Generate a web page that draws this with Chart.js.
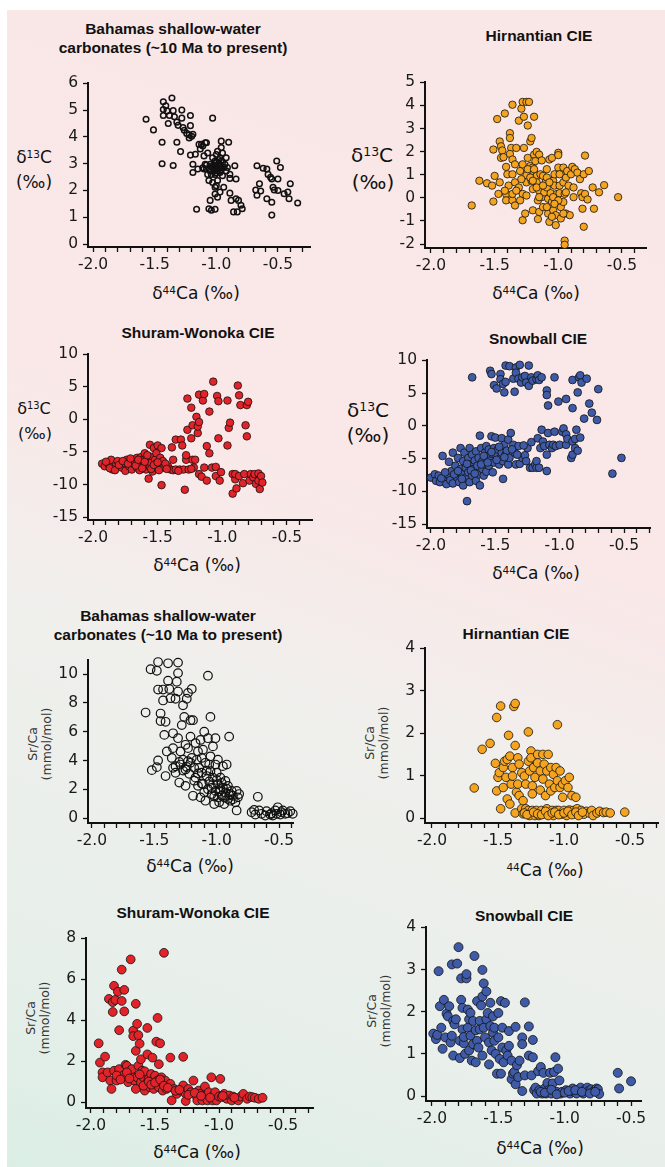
<!DOCTYPE html>
<html>
<head>
<meta charset="utf-8">
<script src="https://cdn.jsdelivr.net/npm/chart.js@4.4.1/dist/chart.umd.min.js"></script>
<style>
  body { margin: 0; width: 665px; height: 1167px; background: #fff; position: relative; overflow: hidden; }
  #bg { position: absolute; left: 7px; top: 10px; width: 658px; height: 1157px;
        background: linear-gradient(20deg, #dbeee5 0%, #e8efeb 17%, #f0efec 41%, #fae8e8 58%, #f9e6e6 100%); }
  canvas { position: absolute; }
  .t { position: absolute; transform: translate(-50%, -50%); white-space: nowrap; color: #111;
       font-family: "DejaVu Sans", sans-serif; text-align: center; }
  .title { font-family: "Liberation Sans", Arial, sans-serif; font-weight: bold; font-size: 15.5px; line-height: 19px; }
  .xl { font-size: 17px; }
  .sup { font-size: 0.62em; position: relative; top: -0.5em; }
  .rot { font-size: 12.5px; line-height: 14px; color: #333; transform: translate(-50%, -50%) rotate(-90deg); }
</style>
</head>
<body>
<div id="bg"></div>

<div class="t title" style="left:173px;top:38px">Bahamas shallow-water<br>carbonates (~10 Ma to present)</div>
<div class="t" style="left:34px;top:157px;font-size:17px">&delta;<span class="sup">13</span>C</div>
<div class="t" style="left:34px;top:182px;font-size:17px">(&permil;)</div>
<div class="t xl" style="left:196px;top:293px">&delta;<span class="sup">44</span>Ca (&permil;)</div>

<div class="t title" style="left:539px;top:35px">Hirnantian CIE</div>
<div class="t" style="left:372px;top:155px;font-size:20px">&delta;<span class="sup">13</span>C</div>
<div class="t" style="left:373px;top:182px;font-size:20px">(&permil;)</div>
<div class="t xl" style="left:536px;top:293px">&delta;<span class="sup">44</span>Ca (&permil;)</div>

<div class="t title" style="left:198px;top:332px">Shuram-Wonoka CIE</div>
<div class="t" style="left:34px;top:408px;font-size:16px">&delta;<span class="sup">13</span>C</div>
<div class="t" style="left:35px;top:433px;font-size:16px">(&permil;)</div>
<div class="t xl" style="left:197px;top:565px">&delta;<span class="sup">44</span>Ca (&permil;)</div>

<div class="t title" style="left:538px;top:338px">Snowball CIE</div>
<div class="t" style="left:368px;top:410px;font-size:20px">&delta;<span class="sup">13</span>C</div>
<div class="t" style="left:368px;top:435px;font-size:20px">(&permil;)</div>
<div class="t xl" style="left:536px;top:573px">&delta;<span class="sup">44</span>Ca (&permil;)</div>

<div class="t title" style="left:168px;top:625px">Bahamas shallow-water<br>carbonates (~10 Ma to present)</div>
<div class="t rot" style="left:40px;top:744px">Sr/Ca<br>(mmol/mol)</div>
<div class="t xl" style="left:190px;top:866px">&delta;<span class="sup">44</span>Ca (&permil;)</div>

<div class="t title" style="left:516px;top:633px">Hirnantian CIE</div>
<div class="t rot" style="left:377px;top:743px">Sr/Ca<br>(mmol/mol)</div>
<div class="t xl" style="left:545px;top:870px"><span class="sup">44</span>Ca (&permil;)</div>

<div class="t title" style="left:193px;top:912px">Shuram-Wonoka CIE</div>
<div class="t rot" style="left:38px;top:1018px">Sr/Ca<br>(mmol/mol)</div>
<div class="t xl" style="left:197px;top:1152px">&delta;<span class="sup">44</span>Ca (&permil;)</div>

<div class="t title" style="left:524px;top:915px">Snowball CIE</div>
<div class="t rot" style="left:379px;top:1011px">Sr/Ca<br>(mmol/mol)</div>
<div class="t xl" style="left:540px;top:1148px">&delta;<span class="sup">44</span>Ca (&permil;)</div>

<script>
// [d44Ca, d13C] pairs
const bahamasCarbon = [[-1.57,4.66],[-1.51,4.26],[-1.43,4.80],[-1.43,5.02],[-1.43,5.31],[-1.41,5.16],[-1.44,3.80],[-1.44,3.00],[-1.40,4.97],[-1.39,4.50],[-1.38,4.80],[-1.36,5.45],[-1.35,4.98],[-1.34,4.75],[-1.35,2.93],[-1.32,4.55],[-1.32,3.80],[-1.31,4.43],[-1.28,5.00],[-1.29,3.45],[-1.28,4.70],[-1.27,4.35],[-1.26,4.25],[-1.24,4.13],[-1.21,4.80],[-1.21,4.42],[-1.22,4.08],[-1.20,4.02],[-1.22,3.96],[-1.19,4.10],[-1.21,3.32],[-1.19,2.98],[-1.19,2.67],[-1.17,3.35],[-1.15,2.80],[-1.16,1.30],[-1.14,3.72],[-1.11,3.66],[-1.10,3.29],[-1.09,3.78],[-1.08,3.78],[-1.11,2.85],[-1.09,2.98],[-1.08,2.80],[-1.03,4.70],[-1.07,3.40],[-1.05,2.98],[-1.05,2.73],[-1.05,1.63],[-1.06,1.32],[-1.04,1.26],[-1.03,2.30],[-1.01,3.10],[-1.00,3.34],[-1.01,2.60],[-1.01,1.87],[-1.01,1.30],[-0.99,1.75],[-1.00,2.18],[-0.97,2.92],[-0.97,3.22],[-0.96,3.60],[-0.96,3.84],[-0.95,2.55],[-0.96,3.10],[-0.97,2.85],[-0.93,2.98],[-0.92,2.73],[-0.94,2.12],[-0.92,3.22],[-0.90,3.80],[-0.89,2.60],[-0.89,2.45],[-0.89,1.90],[-0.88,1.63],[-0.86,1.20],[-0.85,2.92],[-0.84,2.43],[-0.84,1.69],[-0.83,1.20],[-0.82,1.63],[-0.80,1.45],[-0.79,1.32],[-1.03,2.86],[-1.01,2.80],[-1.00,3.04],[-0.99,2.73],[-0.97,2.67],[-1.04,2.60],[-1.07,2.60],[-0.94,2.86],[-0.91,2.86],[-1.03,3.22],[-1.06,2.37],[-0.99,2.37],[-1.01,2.12],[-0.97,1.94],[-1.02,2.95],[-0.98,3.00],[-1.04,2.90],[-0.96,2.78],[-1.00,2.65],[-0.98,3.15],[-1.08,2.95],[-0.95,3.05],[-1.02,2.72],[-1.10,2.80],[-1.12,3.72],[-1.13,3.55],[-0.95,3.40],[-0.99,3.46],[-0.67,2.92],[-0.62,2.83],[-0.59,2.80],[-0.58,2.60],[-0.56,2.49],[-0.55,2.43],[-0.51,3.10],[-0.48,2.86],[-0.50,2.43],[-0.68,2.02],[-0.65,2.25],[-0.64,1.98],[-0.67,1.82],[-0.59,1.69],[-0.55,1.56],[-0.54,2.12],[-0.53,2.02],[-0.50,2.00],[-0.55,1.08],[-0.45,1.88],[-0.42,1.94],[-0.40,2.25],[-0.41,1.69],[-0.34,1.53]];

const hirnantianCarbon = [[-1.68,-0.33],[-1.62,0.74],[-1.56,0.63],[-1.52,0.53],[-1.51,2.09],[-1.50,0.95],[-1.51,-0.16],[-1.48,3.41],[-1.47,0.17],[-1.46,0.67],[-1.46,2.44],[-1.45,2.23],[-1.45,1.73],[-1.44,2.05],[-1.43,1.76],[-1.42,3.65],[-1.41,1.34],[-1.41,0.17],[-1.41,-0.11],[-1.40,1.02],[-1.39,0.53],[-1.38,2.80],[-1.38,2.59],[-1.37,2.16],[-1.38,1.90],[-1.36,4.03],[-1.36,1.66],[-1.36,1.02],[-1.36,-0.11],[-1.36,0.17],[-1.34,0.67],[-1.34,1.45],[-1.33,2.16],[-1.31,3.34],[-1.31,0.45],[-1.30,1.16],[-1.29,3.86],[-1.28,0.17],[-1.28,-0.97],[-1.28,1.45],[-1.27,2.16],[-1.27,3.51],[-1.26,-0.68],[-1.28,4.15],[-1.25,4.15],[-1.23,4.15],[-1.25,0.98],[-1.25,0.67],[-1.25,0.10],[-1.24,3.13],[-1.24,1.73],[-1.22,1.38],[-1.22,2.44],[-1.21,2.59],[-1.21,0.74],[-1.20,0.38],[-1.20,-0.54],[-1.20,1.31],[-1.19,1.09],[-1.19,3.51],[-1.19,1.87],[-1.18,1.59],[-1.17,1.99],[-1.17,0.95],[-1.17,0.67],[-1.16,-0.11],[-1.16,-0.92],[-1.15,0.31],[-1.15,1.87],[-1.15,-0.61],[-1.14,1.02],[-1.13,1.62],[-1.13,0.03],[-1.12,0.95],[-1.12,-0.40],[-1.11,0.24],[-1.10,0.67],[-1.09,1.24],[-1.09,0.45],[-1.08,-0.68],[-1.08,-0.04],[-1.07,1.66],[-1.07,-1.04],[-1.06,0.20],[-1.05,-0.18],[-1.05,1.73],[-1.04,0.74],[-1.04,-0.54],[-1.03,0.53],[-1.03,1.02],[-1.02,-0.75],[-1.02,-1.18],[-1.01,0.17],[-1.00,1.31],[-1.00,1.95],[-1.00,1.85],[-0.99,0.53],[-0.99,0.20],[-0.98,-0.40],[-0.98,-0.89],[-0.97,1.02],[-0.96,1.31],[-0.96,0.67],[-0.96,-0.18],[-0.95,0.17],[-0.95,-1.85],[-0.95,-2.03],[-0.94,0.88],[-0.94,-0.68],[-0.93,1.16],[-0.92,0.53],[-0.91,-0.75],[-0.90,1.02],[-0.89,1.34],[-0.88,0.45],[-0.87,1.24],[-0.85,1.09],[-0.83,0.81],[-0.82,0.20],[-0.81,-0.47],[-0.81,0.03],[-0.80,1.02],[-0.79,0.17],[-0.79,1.83],[-0.80,-1.25],[-0.77,-0.07],[-0.76,1.16],[-0.73,0.45],[-0.72,-0.47],[-0.68,0.24],[-0.64,0.55],[-0.53,0.03],[-1.22,0.88],[-1.20,0.74],[-1.17,0.45],[-1.09,0.88],[-1.07,0.67],[-1.04,0.03],[-1.00,-0.11],[-0.96,-0.68],[-1.05,-0.82],[-1.03,-0.26],[-1.15,0.03],[-1.12,0.53],[-1.30,-0.11],[-1.24,1.24],[-1.19,1.24],[-1.33,0.31],[-1.29,0.81],[-1.34,-0.33],[-1.42,0.31],[-0.94,0.24],[-0.99,1.02],[-0.88,0.03],[-1.09,-0.40]];

const shuramCarbon = [[-1.93,-6.8],[-1.91,-7.2],[-1.88,-6.9],[-1.86,-6.2],[-1.85,-7.7],[-1.82,-6.9],[-1.81,-6.4],[-1.78,-7.4],[-1.76,-6.7],[-1.75,-7.9],[-1.74,-6.2],[-1.72,-7.2],[-1.70,-7.7],[-1.69,-6.3],[-1.68,-6.9],[-1.66,-5.9],[-1.66,-7.4],[-1.64,-6.7],[-1.64,-7.8],[-1.63,-5.8],[-1.62,-6.3],[-1.61,-7.2],[-1.60,-5.2],[-1.59,-6.8],[-1.59,-7.7],[-1.57,-5.9],[-1.57,-6.4],[-1.56,-5.7],[-1.56,-3.9],[-1.56,-7.3],[-1.57,-9.1],[-1.55,-6.7],[-1.54,-8.0],[-1.53,-4.4],[-1.52,-6.2],[-1.52,-6.9],[-1.51,-5.2],[-1.51,-7.4],[-1.50,-4.0],[-1.48,-5.9],[-1.48,-7.3],[-1.47,-4.4],[-1.47,-10.1],[-1.46,-6.4],[-1.45,-7.4],[-1.42,-7.2],[-1.40,-7.7],[-1.39,-4.3],[-1.38,-6.2],[-1.38,-7.8],[-1.36,-7.7],[-1.36,-3.1],[-1.33,-7.7],[-1.32,-3.1],[-1.31,-4.0],[-1.30,-7.7],[-1.29,-10.8],[-1.28,-6.2],[-1.28,-5.5],[-1.27,3.2],[-1.27,-1.6],[-1.26,-7.7],[-1.24,1.8],[-1.24,-2.9],[-1.23,-0.9],[-1.23,-6.2],[-1.22,-7.4],[-1.20,0.4],[-1.19,-2.1],[-1.19,-1.1],[-1.18,-8.4],[-1.18,3.8],[-1.18,-0.4],[-1.16,-8.8],[-1.15,2.9],[-1.14,3.9],[-1.14,-7.4],[-1.12,-9.4],[-1.12,-4.1],[-1.10,-5.2],[-1.10,1.2],[-1.08,-7.4],[-1.07,5.8],[-1.05,-8.7],[-1.05,-7.3],[-1.04,3.6],[-1.03,2.8],[-1.03,-2.9],[-1.02,-9.4],[-1.01,-8.1],[-0.96,2.9],[-0.96,-4.0],[-0.95,-1.3],[-0.94,-0.5],[-0.92,-8.4],[-0.92,-11.4],[-0.90,-9.2],[-0.90,-8.4],[-0.89,-10.6],[-0.88,5.2],[-0.87,3.7],[-0.87,-8.7],[-0.86,2.2],[-0.84,-9.8],[-0.83,-8.4],[-0.82,-0.9],[-0.81,-2.6],[-0.81,2.2],[-0.80,2.7],[-0.79,-9.4],[-0.78,-8.4],[-0.76,-8.9],[-0.75,-8.4],[-0.74,-9.9],[-0.72,-8.3],[-0.72,-9.4],[-0.71,-10.7],[-0.70,-8.7],[-0.69,-9.7],[-1.90,-6.5],[-1.87,-7.5],[-1.83,-7.8],[-1.80,-7.0],[-1.77,-6.4],[-1.73,-6.8],[-1.71,-6.0],[-1.67,-7.1],[-1.65,-6.2],[-1.62,-7.5],[-1.60,-6.5],[-1.58,-5.5],[-1.55,-7.6],[-1.53,-7.0],[-1.50,-6.6],[-1.49,-7.8],[-1.44,-6.8],[-1.43,-7.6],[-1.34,-7.9],[-1.24,-7.6],[-1.21,-6.2]];

const snowballCarbon = [[-1.68,7.4],[-1.54,8.4],[-1.53,7.9],[-1.51,6.2],[-1.49,5.7],[-1.46,7.9],[-1.46,7.1],[-1.44,6.4],[-1.43,5.1],[-1.42,9.2],[-1.42,6.7],[-1.39,9.1],[-1.36,7.2],[-1.35,5.2],[-1.34,8.9],[-1.34,8.1],[-1.32,7.2],[-1.31,9.3],[-1.30,6.6],[-1.29,7.4],[-1.27,7.6],[-1.26,6.6],[-1.24,6.1],[-1.24,9.2],[-1.22,7.4],[-1.21,6.9],[-1.18,7.1],[-1.17,7.7],[-1.16,7.0],[-1.14,7.4],[-1.10,5.4],[-1.10,4.7],[-1.09,3.1],[-1.04,7.4],[-1.01,3.7],[-0.95,4.1],[-0.90,7.0],[-0.90,2.7],[-0.86,5.1],[-0.85,7.4],[-0.84,7.7],[-0.83,6.6],[-0.81,1.1],[-0.79,7.2],[-0.77,3.4],[-0.75,2.0],[-0.71,0.9],[-0.70,5.6],
  [-2.00,-7.9],[-1.97,-7.4],[-1.96,-8.4],[-1.94,-7.6],[-1.93,-8.6],[-1.91,-4.6],[-1.90,-7.9],[-1.88,-8.9],[-1.87,-7.4],[-1.86,-5.5],[-1.85,-8.3],[-1.84,-6.9],[-1.83,-4.1],[-1.83,-8.8],[-1.81,-6.1],[-1.80,-7.8],[-1.79,-4.9],[-1.78,-8.6],[-1.77,-6.6],[-1.77,-3.4],[-1.76,-7.4],[-1.75,-5.4],[-1.75,-9.1],[-1.74,-4.1],[-1.73,-6.4],[-1.73,-7.9],[-1.72,-11.5],[-1.71,-4.9],[-1.71,-7.1],[-1.70,-8.6],[-1.70,-3.4],[-1.69,-5.9],[-1.68,-4.4],[-1.68,-7.6],[-1.67,-6.6],[-1.66,-5.3],[-1.65,-8.4],[-1.65,-3.9],[-1.64,-6.1],[-1.63,-7.4],[-1.63,-4.9],[-1.62,-9.1],[-1.62,-1.5],[-1.61,-3.4],[-1.60,-6.6],[-1.60,-5.4],[-1.59,-7.6],[-1.58,-4.1],[-1.58,-5.9],[-1.57,-3.1],[-1.57,-7.0],[-1.56,-4.8],[-1.55,-3.6],[-1.55,-6.1],[-1.54,-5.3],[-1.53,-1.6],[-1.52,-7.1],[-1.52,-4.3],[-1.51,-3.4],[-1.51,-5.6],[-1.50,-1.8],[-1.49,-4.6],[-1.48,-3.6],[-1.47,-5.9],[-1.46,-4.9],[-1.45,-4.1],[-1.45,-1.9],[-1.44,-8.1],[-1.44,-5.4],[-1.43,-2.9],[-1.42,-4.4],[-1.41,-3.8],[-1.40,-5.9],[-1.40,-2.1],[-1.39,-4.9],[-1.38,-1.1],[-1.36,-2.9],[-1.35,-4.1],[-1.34,-5.9],[-1.32,-3.1],[-1.31,-5.8],[-1.29,-4.9],[-1.27,-4.5],[-1.26,-5.4],[-1.25,-3.4],[-1.23,-6.4],[-1.22,-2.5],[-1.21,-6.4],[-1.19,-5.9],[-1.18,-6.4],[-1.18,-5.4],[-1.17,-1.9],[-1.16,-6.4],[-1.15,-3.4],[-1.14,-0.6],[-1.13,-2.4],[-1.12,-3.1],[-1.10,-4.4],[-1.10,-6.9],[-1.09,-1.1],[-1.08,-2.9],[-1.06,-3.4],[-1.05,-2.9],[-1.04,-0.9],[-1.03,-3.1],[-1.00,-2.9],[-0.98,-0.9],[-0.97,-0.4],[-0.95,-1.3],[-0.95,-2.9],[-0.94,-2.0],[-0.91,-4.9],[-0.90,-2.4],[-0.90,-4.4],[-0.88,-3.4],[-0.88,-2.0],[-0.87,-0.6],[-0.86,-3.8],[-0.84,-1.8],[-0.59,-7.3],[-0.52,-4.9],
  [-1.92,-8.0],[-1.89,-7.1],[-1.82,-7.4],[-1.79,-6.9],[-1.76,-8.1],[-1.72,-5.8],[-1.69,-6.8],[-1.66,-7.3],[-1.61,-5.9],[-1.59,-4.6],[-1.56,-5.6],[-1.53,-4.0],[-1.49,-5.2],[-1.47,-3.2],[-1.43,-4.8],[-1.37,-3.6],[-1.33,-4.4],[-1.28,-3.0]];

// [d44Ca, Sr/Ca] pairs
const bahamasSr = [[-1.57,7.33],[-1.52,3.33],[-1.53,10.34],[-1.48,10.23],[-1.47,10.84],[-1.47,8.93],[-1.48,3.54],[-1.47,4.00],[-1.45,7.26],[-1.45,6.74],[-1.43,8.93],[-1.43,8.17],[-1.41,6.69],[-1.42,5.78],[-1.40,4.63],[-1.41,2.92],[-1.39,10.75],[-1.39,9.54],[-1.38,8.97],[-1.37,8.33],[-1.36,4.18],[-1.35,5.89],[-1.35,4.86],[-1.35,3.49],[-1.33,8.29],[-1.33,3.15],[-1.32,9.47],[-1.31,10.80],[-1.31,10.07],[-1.31,8.79],[-1.31,5.55],[-1.30,2.47],[-1.29,4.63],[-1.29,3.72],[-1.28,6.46],[-1.27,7.83],[-1.27,4.06],[-1.26,7.03],[-1.25,5.09],[-1.25,3.38],[-1.25,2.24],[-1.24,8.29],[-1.23,8.70],[-1.23,3.95],[-1.23,4.86],[-1.22,3.08],[-1.21,6.80],[-1.21,5.66],[-1.20,8.97],[-1.20,4.18],[-1.19,1.55],[-1.19,6.80],[-1.18,3.49],[-1.17,5.21],[-1.17,2.81],[-1.16,4.06],[-1.15,4.63],[-1.15,2.24],[-1.14,3.49],[-1.13,5.43],[-1.13,1.44],[-1.12,4.18],[-1.12,3.15],[-1.11,4.75],[-1.11,2.35],[-1.10,6.00],[-1.09,3.84],[-1.09,1.21],[-1.08,2.92],[-1.07,5.55],[-1.07,9.89],[-1.07,2.01],[-1.06,3.72],[-1.05,7.03],[-1.05,3.26],[-1.05,4.29],[-1.04,1.67],[-1.03,2.81],[-1.03,4.98],[-1.03,2.35],[-1.02,0.98],[-1.01,3.72],[-1.01,5.55],[-1.01,1.89],[-1.00,3.15],[-0.99,1.44],[-0.99,2.35],[-0.99,4.06],[-0.98,1.10],[-0.97,2.81],[-0.97,2.01],[-0.96,1.55],[-0.95,3.61],[-0.95,2.12],[-0.94,0.98],[-0.93,2.58],[-0.93,1.78],[-0.92,3.72],[-0.91,1.32],[-0.91,2.24],[-0.90,5.66],[-0.89,1.67],[-0.89,1.21],[-0.88,1.89],[-0.87,1.55],[-0.85,1.10],[-0.84,1.89],[-0.83,1.44],[-0.82,1.67],[-0.84,0.53],
  [-1.33,3.60],[-1.30,3.90],[-1.27,3.30],[-1.24,3.55],[-1.21,3.85],[-1.18,2.60],[-1.15,3.10],[-1.12,2.40],[-1.10,1.80],[-1.08,3.30],[-1.06,2.55],[-1.04,2.10],[-1.02,1.50],[-1.00,2.65],[-0.98,1.85],[-0.96,2.45],[-0.94,1.45],[-0.92,2.05],[-0.90,1.60],[-0.87,1.30],
  [-0.72,0.41],[-0.70,0.57],[-0.69,0.25],[-0.67,1.48],[-0.66,0.53],[-0.64,0.30],[-0.61,0.18],[-0.60,0.48],[-0.57,0.25],[-0.56,0.34],[-0.55,0.18],[-0.53,0.53],[-0.52,0.30],[-0.51,0.75],[-0.49,0.25],[-0.48,0.41],[-0.47,0.53],[-0.45,0.30],[-0.43,0.34],[-0.41,0.48],[-0.39,0.30]];

const hirnantianSr = [[-1.68,0.71],[-1.62,1.62],[-1.56,1.76],[-1.52,1.29],[-1.51,0.64],[-1.51,2.37],[-1.50,0.96],[-1.49,1.07],[-1.48,2.64],[-1.48,0.22],[-1.46,0.72],[-1.46,1.19],[-1.45,1.34],[-1.44,0.96],[-1.43,0.45],[-1.43,1.38],[-1.42,1.95],[-1.41,0.33],[-1.41,1.46],[-1.40,0.80],[-1.39,1.19],[-1.39,0.99],[-1.38,2.63],[-1.37,2.70],[-1.37,0.12],[-1.37,1.71],[-1.36,0.61],[-1.35,1.42],[-1.35,0.80],[-1.34,0.53],[-1.34,1.27],[-1.32,1.07],[-1.32,0.22],[-1.31,0.41],[-1.31,0.10],[-1.30,0.99],[-1.29,0.80],[-1.29,0.22],[-1.27,2.03],[-1.27,0.18],[-1.27,1.34],[-1.26,1.11],[-1.26,0.06],[-1.25,1.58],[-1.25,1.42],[-1.24,0.76],[-1.24,0.18],[-1.24,0.57],[-1.23,1.19],[-1.22,0.06],[-1.22,0.96],[-1.21,0.18],[-1.20,1.50],[-1.20,1.30],[-1.19,0.06],[-1.18,1.11],[-1.18,0.66],[-1.17,0.18],[-1.16,0.92],[-1.16,1.50],[-1.15,1.27],[-1.15,0.10],[-1.14,0.53],[-1.13,0.22],[-1.13,1.11],[-1.12,1.50],[-1.11,0.80],[-1.11,0.10],[-1.10,1.19],[-1.10,0.64],[-1.09,0.18],[-1.08,1.03],[-1.08,0.06],[-1.07,0.72],[-1.06,0.18],[-1.06,1.19],[-1.05,0.88],[-1.05,2.20],[-1.04,0.18],[-1.03,1.11],[-1.03,0.72],[-1.02,0.09],[-1.01,0.80],[-1.01,0.49],[-1.00,0.18],[-0.99,0.88],[-0.98,0.06],[-0.97,0.72],[-0.96,0.19],[-0.96,0.96],[-0.95,0.12],[-0.94,0.53],[-0.93,0.18],[-0.92,0.10],[-0.91,0.49],[-0.90,0.22],[-0.88,0.12],[-0.87,0.18],[-0.85,0.09],[-0.83,0.16],[-0.81,0.12],[-0.79,0.18],[-0.78,0.06],[-0.75,0.12],[-0.73,0.16],[-0.70,0.13],[-0.68,0.14],[-0.65,0.12],[-0.54,0.14],
  [-1.30,0.12],[-1.28,0.08],[-1.23,0.14],[-1.20,0.10],[-1.17,0.08],[-1.14,0.16],[-1.12,0.06],[-1.09,0.12],[-1.07,0.14],[-1.04,0.08],[-1.00,0.12],[-0.97,0.16],[-0.94,0.08],[-0.91,0.14],[-0.89,0.06],[-0.86,0.14]];

const shuramSr = [[-1.94,2.87],[-1.93,1.93],[-1.91,1.45],[-1.91,1.21],[-1.89,2.22],[-1.87,1.45],[-1.86,5.04],[-1.85,1.05],[-1.84,0.64],[-1.83,4.88],[-1.83,4.40],[-1.82,1.53],[-1.82,5.68],[-1.81,4.99],[-1.80,1.05],[-1.79,5.39],[-1.78,3.51],[-1.78,1.61],[-1.76,6.47],[-1.76,4.94],[-1.75,1.29],[-1.74,5.48],[-1.74,4.43],[-1.73,1.82],[-1.72,1.77],[-1.71,0.97],[-1.69,1.37],[-1.69,6.97],[-1.68,1.61],[-1.67,3.49],[-1.67,3.22],[-1.66,1.05],[-1.65,0.64],[-1.65,4.80],[-1.65,2.50],[-1.64,1.21],[-1.64,3.82],[-1.63,3.27],[-1.63,1.77],[-1.62,2.85],[-1.61,0.97],[-1.61,2.09],[-1.60,1.53],[-1.59,1.21],[-1.58,1.50],[-1.58,0.56],[-1.57,0.89],[-1.56,2.33],[-1.56,3.62],[-1.55,1.13],[-1.54,0.72],[-1.53,1.37],[-1.52,2.17],[-1.52,1.05],[-1.51,0.64],[-1.50,1.29],[-1.49,2.95],[-1.48,1.05],[-1.48,4.11],[-1.47,0.72],[-1.47,1.85],[-1.46,2.87],[-1.45,1.21],[-1.45,0.97],[-1.44,0.56],[-1.42,1.05],[-1.43,7.29],[-1.41,0.64],[-1.38,0.89],[-1.38,2.17],[-1.37,0.08],[-1.35,0.64],[-1.33,0.40],[-1.30,0.56],[-1.28,2.21],[-1.28,0.81],[-1.26,0.40],[-1.26,0.05],[-1.24,0.64],[-1.22,0.48],[-1.20,1.05],[-1.18,0.32],[-1.17,0.08],[-1.16,0.56],[-1.15,0.40],[-1.13,0.08],[-1.11,0.76],[-1.11,0.32],[-1.09,0.08],[-1.08,0.48],[-1.06,1.21],[-1.05,0.08],[-1.04,0.32],[-1.03,0.48],[-1.02,0.08],[-1.00,0.27],[-0.99,1.13],[-0.98,0.24],[-0.96,0.40],[-0.94,0.16],[-0.92,0.32],[-0.90,0.08],[-0.89,0.27],[-0.86,0.16],[-0.85,0.08],[-0.83,0.27],[-0.81,0.40],[-0.78,0.16],[-0.76,0.27],[-0.74,0.24],[-0.72,0.21],[-0.69,0.16],[-0.66,0.21],
  [-1.80,1.30],[-1.77,1.10],[-1.72,1.45],[-1.70,1.15],[-1.62,1.35],[-1.59,0.80],[-1.55,1.00],[-1.53,0.85],[-1.50,0.95],[-1.46,1.10],[-1.43,0.80],[-1.40,0.70],[-1.34,0.55],[-1.31,0.60],[-1.24,0.35],[-1.19,0.45],[-1.14,0.30],[-1.07,0.22],[-0.97,0.30],[-0.88,0.22]];

const snowballSr = [[-1.99,1.48],[-1.97,1.35],[-1.96,1.45],[-1.95,2.96],[-1.94,2.13],[-1.93,1.62],[-1.92,1.12],[-1.91,2.28],[-1.90,1.39],[-1.89,1.95],[-1.88,1.89],[-1.87,2.13],[-1.86,1.27],[-1.85,3.12],[-1.85,1.43],[-1.84,1.78],[-1.84,0.96],[-1.83,1.70],[-1.82,1.82],[-1.81,3.14],[-1.80,3.53],[-1.79,1.31],[-1.79,0.90],[-1.78,2.79],[-1.78,2.28],[-1.77,1.58],[-1.77,2.09],[-1.76,1.25],[-1.76,1.40],[-1.75,1.00],[-1.74,2.79],[-1.74,2.89],[-1.73,2.05],[-1.73,1.62],[-1.72,1.82],[-1.72,1.08],[-1.71,1.43],[-1.71,1.97],[-1.70,0.84],[-1.69,1.23],[-1.69,1.78],[-1.68,3.32],[-1.67,0.80],[-1.67,1.56],[-1.66,1.31],[-1.66,2.25],[-1.65,1.15],[-1.64,1.78],[-1.64,1.58],[-1.63,2.15],[-1.62,2.99],[-1.62,2.36],[-1.62,0.96],[-1.61,1.62],[-1.61,2.67],[-1.60,1.39],[-1.59,1.82],[-1.59,2.48],[-1.58,1.97],[-1.57,1.27],[-1.57,0.75],[-1.56,1.66],[-1.56,2.21],[-1.55,1.08],[-1.54,1.50],[-1.54,1.89],[-1.53,1.31],[-1.53,1.62],[-1.52,1.00],[-1.51,0.53],[-1.50,1.39],[-1.50,1.97],[-1.49,0.88],[-1.48,2.25],[-1.48,0.53],[-1.47,1.15],[-1.47,1.62],[-1.46,0.80],[-1.45,2.21],[-1.44,1.08],[-1.43,0.96],[-1.42,1.54],[-1.42,1.19],[-1.40,0.40],[-1.40,0.84],[-1.39,0.53],[-1.38,0.57],[-1.37,1.64],[-1.37,0.28],[-1.36,0.73],[-1.35,0.45],[-1.34,0.84],[-1.32,1.39],[-1.32,1.23],[-1.32,0.12],[-1.30,0.49],[-1.30,2.22],[-1.27,1.65],[-1.27,0.96],[-1.25,0.49],[-1.24,0.92],[-1.24,1.33],[-1.23,0.14],[-1.22,0.20],[-1.21,0.06],[-1.20,0.59],[-1.19,0.14],[-1.18,0.69],[-1.17,0.06],[-1.16,0.55],[-1.15,0.18],[-1.14,0.06],[-1.13,0.31],[-1.12,0.14],[-1.11,0.55],[-1.10,0.06],[-1.09,0.30],[-1.08,0.57],[-1.07,0.92],[-1.06,0.10],[-1.05,0.65],[-1.04,0.37],[-1.03,0.06],[-1.02,0.10],[-0.99,0.14],[-0.96,0.06],[-0.94,0.18],[-0.93,0.10],[-0.91,0.06],[-0.89,0.16],[-0.88,0.20],[-0.86,0.06],[-0.85,0.14],[-0.83,0.20],[-0.82,0.12],[-0.80,0.16],[-0.78,0.12],[-0.76,0.18],[-0.75,0.16],[-0.74,0.05],[-0.60,0.55],[-0.59,0.18],[-0.50,0.35],
  [-1.18,0.10],[-1.15,0.08],[-1.10,0.15],[-1.06,0.04],[-1.00,0.08],[-0.97,0.12],[-0.92,0.14],[-0.87,0.10],[-0.81,0.06],[-0.77,0.10]];

// tick values and labels
const xTickLabels = ['-2.0', '-1.5', '-1.0', '-0.5'];
const carbonTicksBahamas = [0, 1, 2, 3, 4, 5, 6];
const carbonTicksHirnantian = [-2, -1, 0, 1, 2, 3, 4, 5];
const carbonTicksCIE = [-15, -10, -5, 0, 5, 10];
const srTicksBahamas = [0, 2, 4, 6, 8, 10];
const srTicksHirnantian = [0, 1, 2, 3, 4];
const srTicksShuram = [0, 2, 4, 6, 8];
const srTicksSnowball = [0, 1, 2, 3, 4];

const ORANGE = '#f5a41f', RED = '#e2232a', BLUE = '#3f5ba8';

// ax/ay = pixel position of the axis corner, pw/ph = plot size
const panels = [
  { data: bahamasCarbon, ax: 88, ay: 247, pw: 222, ph: 166, x: [-2.041, -0.240], y: [-0.11, 6], yt: carbonTicksBahamas, fill: 'rgba(0,0,0,0)', r: 2.8, bw: 1.5 },
  { data: hirnantianCarbon, ax: 425, ay: 248, pw: 221, ph: 168, x: [-2.047, -0.311], y: [-2.17, 5], yt: carbonTicksHirnantian, fill: ORANGE, r: 3.7, bw: 0.8 },
  { data: shuramCarbon, ax: 88, ay: 520, pw: 224, ph: 168, x: [-2.039, -0.306], y: [-15.45, 10], yt: carbonTicksCIE, fill: RED, r: 3.8, bw: 0.8 },
  { data: snowballCarbon, ax: 427, ay: 528, pw: 223, ph: 170, x: [-2.031, -0.298], y: [-15.6, 10], yt: carbonTicksCIE, fill: BLUE, r: 3.9, bw: 0.8 },
  { data: bahamasSr, ax: 88, ay: 823, pw: 205, ph: 165, x: [-2.032, -0.388], y: [-0.34, 10.96], yt: srTicksBahamas, fill: 'rgba(0,0,0,0)', r: 4.3, bw: 1.2 },
  { data: hirnantianSr, ax: 425, ay: 823, pw: 233, ph: 177, x: [-2.053, -0.288], y: [-0.116, 4], yt: srTicksHirnantian, fill: ORANGE, r: 4.3, bw: 0.8 },
  { data: shuramSr, ax: 86, ay: 1108, pw: 227, ph: 172, x: [-2.039, -0.266], y: [-0.29, 8], yt: srTicksShuram, fill: RED, r: 4.4, bw: 0.8 },
  { data: snowballSr, ax: 426, ay: 1101, pw: 215, ph: 176, x: [-2.045, -0.425], y: [-0.117, 4], yt: srTicksSnowball, fill: BLUE, r: 4.5, bw: 0.8 }
];

const YW = 60, XH = 32, PT = 12, PR = 16;
const tickFont = { family: 'DejaVu Sans', size: 15.5 };

function xTicksFor(max) {
  const out = [];
  for (let i = 0; -2.0 + i * 0.1 <= max + 1e-9; i++) out.push(Math.round((-2.0 + i * 0.1) * 10) / 10);
  return out;
}

panels.forEach(function (p) {
  const cv = document.createElement('canvas');
  const w = YW + p.pw + PR, h = PT + p.ph + XH;
  cv.width = w; cv.height = h;
  cv.style.left = (p.ax - YW) + 'px';
  cv.style.top = (p.ay - p.ph - PT) + 'px';
  cv.style.width = w + 'px'; cv.style.height = h + 'px';
  document.body.appendChild(cv);

  const xt = xTicksFor(p.x[1]);
  new Chart(cv, {
    type: 'scatter',
    data: {
      datasets: [{
        data: p.data.map(d => ({ x: d[0], y: d[1] })),
        backgroundColor: p.fill,
        borderColor: '#111',
        borderWidth: p.bw,
        pointRadius: p.r,
        clip: false
      }]
    },
    options: {
      responsive: false,
      animation: false,
      devicePixelRatio: 1,
      layout: { padding: { top: PT, right: PR, left: 0, bottom: 0 } },
      plugins: { legend: { display: false }, tooltip: { enabled: false } },
      scales: {
        x: {
          type: 'linear', min: p.x[0], max: p.x[1],
          afterBuildTicks: s => { s.ticks = xt.map(v => ({ value: v })); },
          afterFit: s => { s.height = XH; },
          ticks: {
            autoSkip: false, maxRotation: 0, padding: 4, color: '#1a1a1a', font: tickFont,
            callback: v => {
              const k = xTickLabels.indexOf((Math.round(v * 10) / 10).toFixed(1));
              return k >= 0 ? xTickLabels[k] : '';
            }
          },
          grid: { drawOnChartArea: false, drawTicks: true, tickLength: 5, tickWidth: 1.3, tickColor: '#111' },
          border: { display: true, color: '#111', width: 2 }
        },
        y: {
          type: 'linear', min: p.y[0], max: p.y[1],
          afterBuildTicks: s => { s.ticks = p.yt.map(v => ({ value: v })); },
          afterFit: s => { s.width = YW; },
          ticks: { autoSkip: false, padding: 5, color: '#1a1a1a', font: tickFont, callback: v => String(v) },
          grid: { drawOnChartArea: false, drawTicks: true, tickLength: 5, tickWidth: 1.3, tickColor: '#111' },
          border: { display: true, color: '#111', width: 2 }
        }
      }
    }
  });
});
</script>
</body>
</html>
